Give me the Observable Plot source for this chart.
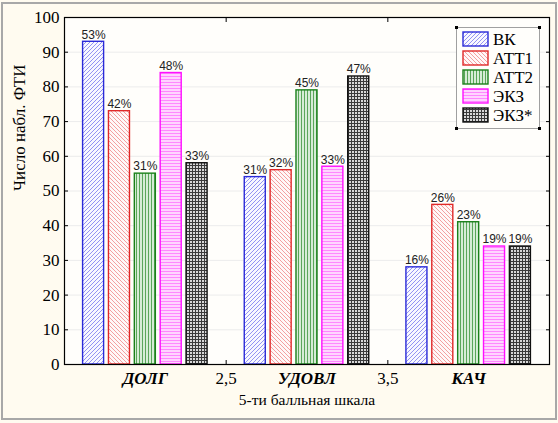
<!DOCTYPE html>
<html><head><meta charset="utf-8">
<script src="https://cdn.jsdelivr.net/npm/d3@7"></script>
<script src="https://cdn.jsdelivr.net/npm/@observablehq/plot@0.6"></script>
<style>
body{margin:0;background:#fffbf0;font-family:'Liberation Serif';}
#wrap{position:relative;width:558px;height:423px;overflow:hidden;}
#border{position:absolute;left:1px;top:2px;width:552px;height:414px;border:2px solid #a8a8a8;pointer-events:none;}
#legend{position:absolute;left:456px;top:27px;width:82px;height:100px;border:1px solid #a0a0a0;background:#fffefb;}
.h{position:absolute;width:3px;height:3px;background:#000;}
</style></head><body><div id="wrap"></div>
<script>
const categories = ["ДОЛГ", "УДОВЛ", "КАЧ"];
const categoryPos = [2, 3, 4];
const betweenTicks = [2.5, 3.5];
const betweenLabels = ["2,5", "3,5"];
const series = ["ВК", "АТТ1", "АТТ2", "ЭКЗ", "ЭКЗ*"];
const valuesVK = [93, 54, 28];
const valuesATT1 = [73, 56, 46];
const valuesATT2 = [55, 79, 41];
const valuesEKZ = [84, 57, 34];
const valuesEKZstar = [58, 83, 34];
const pctVK = ["53%", "31%", "16%"];
const pctATT1 = ["42%", "32%", "26%"];
const pctATT2 = ["31%", "45%", "23%"];
const pctEKZ = ["48%", "33%", "19%"];
const pctEKZstar = ["33%", "47%", "19%"];
const yTicks = [0, 10, 20, 30, 40, 50, 60, 70, 80, 90, 100];
const yLabel = "Число набл. ФТИ";
const xLabel = "5-ти балльная шкала";

const seriesValues = [valuesVK, valuesATT1, valuesATT2, valuesEKZ, valuesEKZstar];
const seriesPct = [pctVK, pctATT1, pctATT2, pctEKZ, pctEKZstar];
const strokes = ["#2a2ad8", "#e02828", "#1a801a", "#ff10ff", "#101010"];
const step = 0.16, barW = 0.13;

const rows = [];
series.forEach((s, j) => {
  categories.forEach((c, i) => {
    const xc = categoryPos[i] + (j - 2) * step;
    rows.push({series: s, j, cat: c, xc, x1: xc - barW / 2, x2: xc + barW / 2, value: seriesValues[j][i], label: seriesPct[j][i]});
  });
});

const chart = Plot.plot({
  width: 558, height: 423,
  marginLeft: 64, marginRight: 9, marginTop: 17, marginBottom: 59,
  style: {background: "#fffbf0", fontSize: "17px", color: "#000", fontFamily: "Liberation Serif"},
  x: {type: "linear", domain: [1.5, 4.5]},
  y: {domain: [0, 100]},
  marks: [
    Plot.frame({fill: "#fffefb", stroke: null}),
    Plot.ruleY(yTicks.slice(1, -1), {stroke: "#ececec", strokeWidth: 1}),
    ...series.map((s, j) => Plot.rect(rows.filter(r => r.j === j), {
      x1: "x1", x2: "x2", y1: 0, y2: "value",
      fill: `url(#pat${j})`, stroke: strokes[j], strokeWidth: 1.4
    })),
    Plot.text(rows, {x: "xc", y: "value", text: "label", dy: -7, fontSize: 12, fill: "#222", className: "pct"}),
    Plot.frame({stroke: "#000", strokeWidth: 1.2}),
    Plot.axisY({ticks: yTicks, tickSize: -4, tickPadding: 9, fontSize: 17, label: null}),
    Plot.axisY({anchor: "right", ticks: yTicks, tickSize: -4, tickFormat: () => "", label: null}),
    Plot.axisX({ticks: betweenTicks, tickFormat: d => betweenLabels[betweenTicks.indexOf(d)], tickSize: -4, tickPadding: 11, fontSize: 17, label: null}),
    Plot.axisX({anchor: "top", ticks: betweenTicks, tickSize: -4, tickFormat: () => "", label: null}),
    Plot.axisX({ticks: categoryPos, tickFormat: d => categories[categoryPos.indexOf(d)], tickSize: 0, tickPadding: 7, fontSize: 17, fontStyle: "italic", fontWeight: "bold", label: null}),
    Plot.text([yLabel], {text: d => d, frameAnchor: "left", dx: -45, rotate: -90, fontSize: 17}),
    Plot.text([xLabel], {text: d => d, frameAnchor: "bottom", dy: 40, fontSize: 15.5})
  ]
});

const defs = `<defs>
<pattern id="pat0" patternUnits="userSpaceOnUse" width="4" height="4">
 <rect width="4" height="4" fill="#f8f8ff"/>
 <path d="M-1,1 l2,-2 M0,4 l4,-4 M3,5 l2,-2" stroke="#8888f2" stroke-width="0.9"/>
</pattern>
<pattern id="pat1" patternUnits="userSpaceOnUse" width="4" height="4">
 <rect width="4" height="4" fill="#fff8f8"/>
 <path d="M-1,3 l2,2 M0,0 l4,4 M3,-1 l2,2" stroke="#f29696" stroke-width="0.9"/>
</pattern>
<pattern id="pat2" patternUnits="userSpaceOnUse" width="3" height="3">
 <rect width="3" height="3" fill="#d6ecd6"/>
 <rect x="1" width="1" height="3" fill="#5aa65a"/>
</pattern>
<pattern id="pat3" patternUnits="userSpaceOnUse" width="3" height="3">
 <rect width="3" height="3" fill="#ffd4ff"/>
 <rect y="1" width="3" height="1" fill="#ff88ff"/>
</pattern>
<pattern id="pat4" patternUnits="userSpaceOnUse" width="3" height="3">
 <rect width="3" height="3" fill="#3a3a3a"/>
 <rect x="1" y="1" width="2" height="2" fill="#d8d8d8"/>
</pattern>
</defs>`;
chart.insertAdjacentHTML("afterbegin", defs);

chart.querySelectorAll("text").forEach(t => { t.style.fontFamily = "'Liberation Serif'"; });
chart.querySelectorAll("g.pct text").forEach(t => { t.style.fontFamily = "'Liberation Sans'"; });

const wrap = document.getElementById("wrap");
wrap.appendChild(chart);

const legend = document.createElement("div");
legend.id = "legend";
let lsvg = `<svg width="82" height="100" style="position:absolute;left:0;top:0">`;
series.forEach((s, j) => {
  const y = 4 + 19 * j;
  lsvg += `<rect x="6" y="${y}" width="25" height="14" fill="url(#pat${j})" stroke="${strokes[j]}" stroke-width="1.4"/>`;
  lsvg += `<text x="36" y="${y + 7}" dominant-baseline="central" font-size="17" style="font-family:'Liberation Serif'">${s}</text>`;
});
lsvg += `</svg>`;
legend.innerHTML = lsvg +
  `<div class="h" style="left:-2px;top:-2px"></div><div class="h" style="right:-2px;top:-2px"></div>` +
  `<div class="h" style="left:-2px;bottom:-2px"></div><div class="h" style="right:-2px;bottom:-2px"></div>`;
wrap.appendChild(legend);

const border = document.createElement("div");
border.id = "border";
wrap.appendChild(border);
</script>
</body></html>
